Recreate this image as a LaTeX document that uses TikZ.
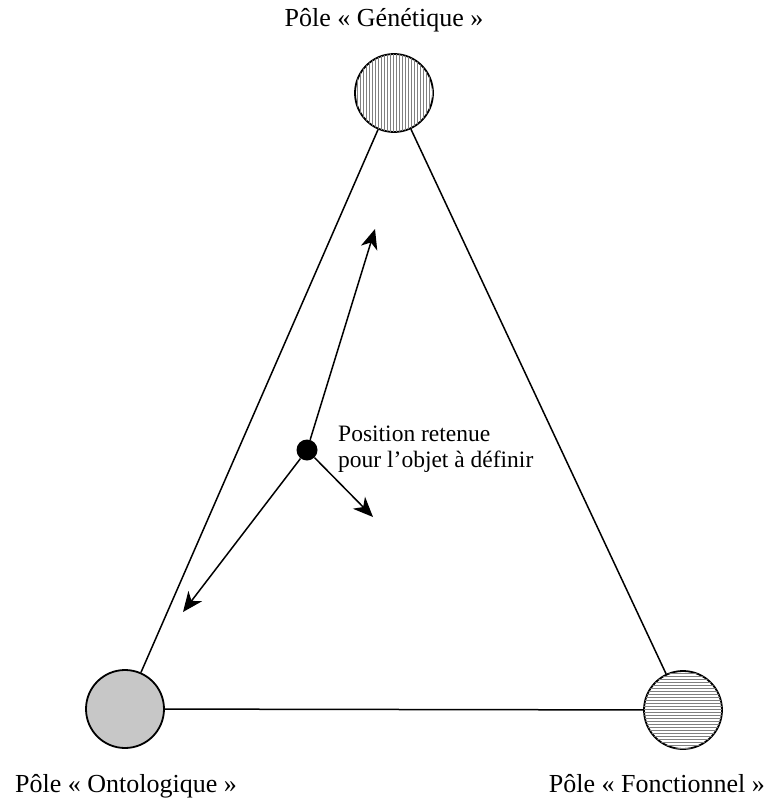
\documentclass[tikz,border=0pt]{standalone}
\usepackage{fontspec}
\setmainfont{Liberation Serif}
\usetikzlibrary{patterns,arrows.meta}
\begin{document}
\begin{tikzpicture}[x=1pt,y=-1pt,
  pole/.style={circle,draw=black,line width=1.8pt,minimum size=78pt,inner sep=0pt},
  side/.style={line width=1.5pt},
  arr/.style={line width=1.5pt,-{Stealth[length=20pt,width=17pt,inset=6pt]}},
  lbl/.style={font=\fontsize{26}{29}\selectfont,inner sep=0pt}]
\useasboundingbox (0,0) rectangle (771,800);
\node[pole,fill=white,postaction={pattern=vertical lines,pattern color=gray}] (G) at (394,93) {};
\node[pole,fill=black!22] (O) at (125,709) {};
\node[pole,fill=white,postaction={pattern=horizontal lines,pattern color=gray}] (F) at (683,710) {};
\draw[side] (G) -- (O);
\draw[side] (G) -- (F);
\draw[side] (O) -- (F);
\node[circle,fill=black,minimum size=21pt,inner sep=0pt] (P) at (307,450) {};
\coordinate (a1) at (375,229);
\coordinate (a2) at (183,612);
\coordinate (a3) at (373,517);
\draw[arr] (P) -- (a1);
\draw[arr] (P) -- (a2);
\draw[arr] (P) -- (a3);
\node[lbl,anchor=base] (tG) at (384,27) {Pôle « Génétique »};
\node[lbl,anchor=base west] (tO) at (15,792) {Pôle « Ontologique »};
\node[lbl,anchor=base east] (tF) at (765,792) {Pôle « Fonctionnel »};
\node[lbl,anchor=base west,align=left,font=\fontsize{23.5}{25.5}\selectfont] (tP) at (338,467) {Position retenue\\pour l’objet à définir};
\end{tikzpicture}
\end{document}
